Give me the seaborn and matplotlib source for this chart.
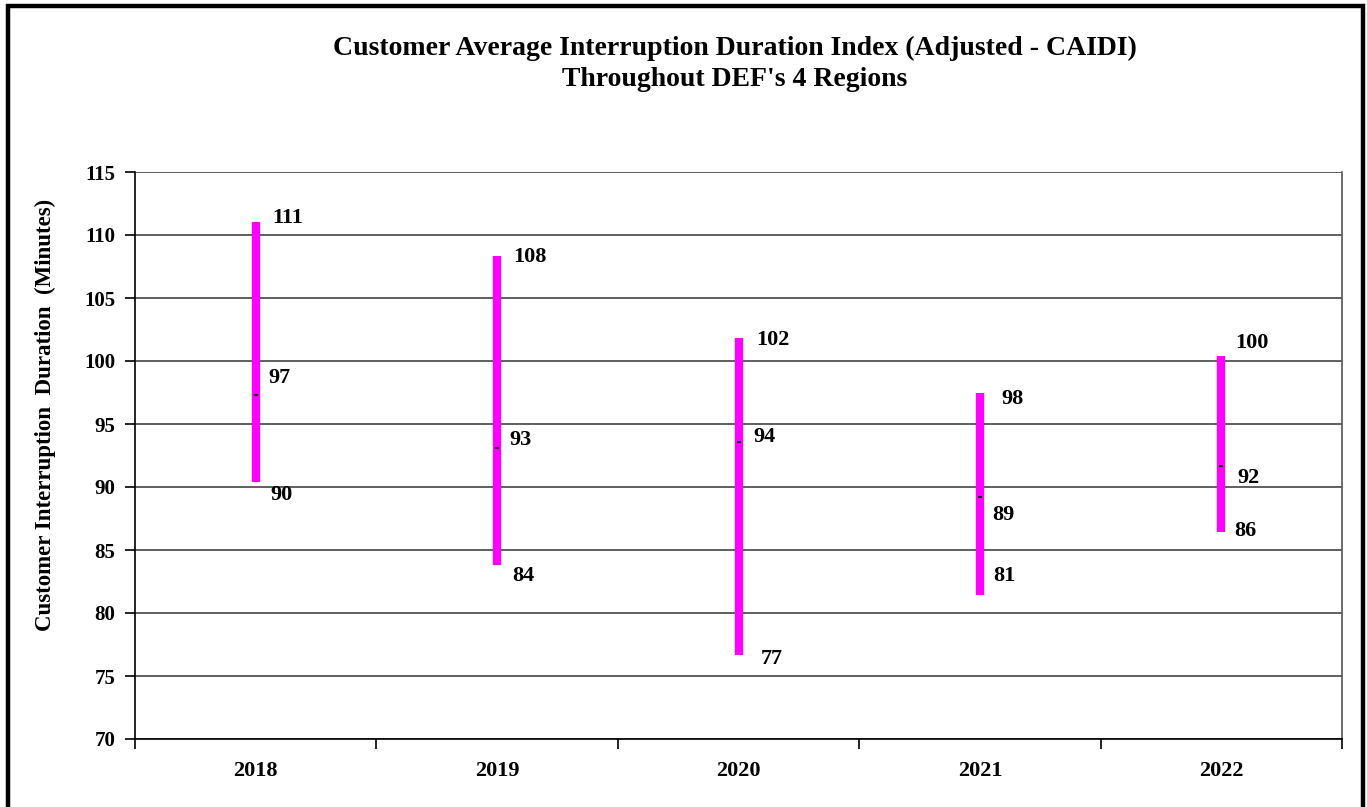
import matplotlib
matplotlib.use("Agg")
import matplotlib.pyplot as plt
from matplotlib.patches import Rectangle
import seaborn as sns
import pandas as pd

years = ["2018", "2019", "2020", "2021", "2022"]
high_values = [111.0, 108.3, 101.8, 97.5, 100.4]
avg_values = [97.3, 93.1, 93.6, 89.2, 91.7]
low_values = [90.4, 83.8, 76.7, 81.4, 86.4]
high_labels = ["111", "108", "102", "98", "100"]
avg_labels = ["97", "93", "94", "89", "92"]
low_labels = ["90", "84", "77", "81", "86"]

title = "Customer Average Interruption Duration Index (Adjusted - CAIDI)\nThroughout DEF's 4 Regions"
ylabel = "Customer Interruption  Duration  (Minutes)"
yticks = [70, 75, 80, 85, 90, 95, 100, 105, 110, 115]

# label offsets in pixels (dx, dy up) from each point, label centred
high_off = [(32, 4), (33, -1), (34, -2), (33, -6), (31, 13)]
avg_off = [(24, 17), (23, 8), (26, 5), (23, -18), (27, -12)]
low_off = [(26, -13), (26, -11), (33, -4), (24, 19), (24, 1)]

sns.set_theme(style="white")
plt.rcParams["font.family"] = ["Liberation Serif", "DejaVu Serif"]
plt.rcParams["font.weight"] = "bold"
plt.rcParams["text.color"] = "black"
plt.rcParams["axes.labelcolor"] = "black"
plt.rcParams["xtick.color"] = "black"
plt.rcParams["ytick.color"] = "black"

fig = plt.figure(figsize=(13.67, 8.07), dpi=100)
ax = fig.add_axes([135 / 1367, 1 - 739 / 807, (1342 - 135) / 1367, (739 - 172) / 807])

df = pd.DataFrame({
    "Year": years * 2,
    "Value": high_values + low_values,
})
sns.lineplot(data=df, x="Year", y="Value", units="Year", estimator=None,
             color="#FF00FF", lw=6, ax=ax, legend=False, solid_capstyle="butt")
dfm = pd.DataFrame({"Year": years, "Value": avg_values})
sns.scatterplot(data=dfm, x="Year", y="Value", marker="_", color="#222222",
                s=10, linewidth=1.5, ax=ax, legend=False, zorder=5)

fs_lab = 16
for i in range(len(years)):
    for v, lab, off in ((high_values[i], high_labels[i], high_off[i]),
                        (avg_values[i], avg_labels[i], avg_off[i]),
                        (low_values[i], low_labels[i], low_off[i])):
        ax.annotate(lab, xy=(i, v), xytext=off,
                    textcoords="offset pixels", ha="center", va="center",
                    fontsize=fs_lab, fontweight="bold", color="black")

ax.set_xlim(-0.5, 4.5)
ax.set_ylim(70, 115)
ax.set_yticks(yticks)
ax.set_yticklabels([str(t) for t in yticks], fontsize=15, fontweight="bold")
ax.set_xticks([-0.5, 0.5, 1.5, 2.5, 3.5, 4.5])
ax.set_xticklabels([])
ax.set_xticks(range(len(years)), minor=True)
ax.set_xticklabels(years, minor=True, fontsize=16, fontweight="bold")
ax.tick_params(axis="x", which="major", direction="out", length=7, width=1.2,
               color="black", bottom=True)
ax.tick_params(axis="x", which="minor", length=0, pad=16)
ax.tick_params(axis="y", direction="out", length=7, width=1.2, color="black",
               left=True, pad=7)
ax.set_xlabel("")
ax.set_ylabel(ylabel, fontsize=16.5, fontweight="bold", va="center", ha="center")
ax.yaxis.set_label_coords((45 - 135) / 1207, (739 - 415) / 567)

ax.yaxis.grid(True, color="#444444", lw=1.2)
ax.xaxis.grid(False)
for s in ["left", "bottom"]:
    ax.spines[s].set_color("black")
    ax.spines[s].set_linewidth(1.2)
ax.spines["right"].set_color("#555555")
ax.spines["right"].set_linewidth(1.2)
ax.spines["top"].set_visible(False)

fig.text(735 / 1367, 1 - 64 / 807, title, ha="center", va="center",
         fontsize=20, fontweight="bold", linespacing=1.3)

fig.add_artist(Rectangle((8 / 1367, -0.1), (1363 - 8) / 1367, 1.1 - 6 / 807,
                         transform=fig.transFigure, fill=False,
                         edgecolor="black", lw=3.2))

fig.savefig("out.png", dpi=100)
